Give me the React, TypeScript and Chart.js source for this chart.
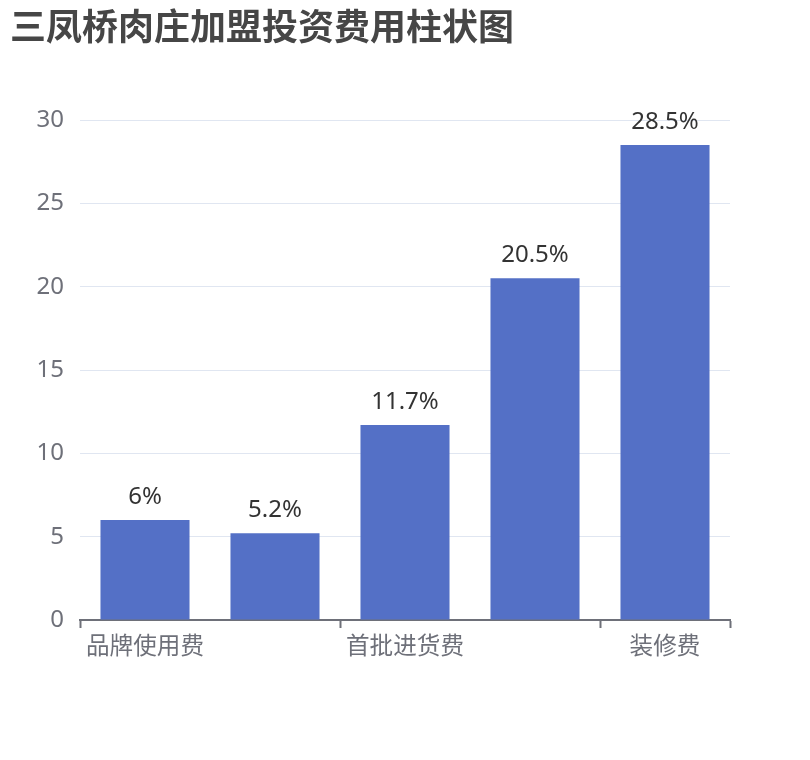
import React, { useEffect, useRef } from "react";
import { Chart, registerables } from "chart.js";

Chart.register(...registerables);

const TITLE = "三凤桥肉庄加盟投资费用柱状图";
const categories = ["品牌使用费", "加盟费", "首批进货费", "设备费", "装修费"];
const values = [6, 5.2, 11.7, 20.5, 28.5];
const valueLabels = ["6%", "5.2%", "11.7%", "20.5%", "28.5%"];
const yTicks = [0, 5, 10, 15, 20, 25, 30];

const NUM_FONT = "'Noto Sans', 'Noto Sans CJK SC', sans-serif";
const CJK_FONT = "'Noto Sans CJK SC', 'Noto Sans', sans-serif";

const overlayPlugin = {
  id: "overlay",
  afterDraw(chart: any) {
    const ctx = chart.ctx;
    ctx.save();
    ctx.fillStyle = "#464646";
    ctx.font = `bold 36px ${CJK_FONT}`;
    ctx.textAlign = "left";
    ctx.textBaseline = "middle";
    ctx.fillText(TITLE, 10, 26);

    const meta = chart.getDatasetMeta(0);
    ctx.fillStyle = "#333333";
    ctx.font = `24px ${NUM_FONT}`;
    ctx.textAlign = "center";
    ctx.textBaseline = "alphabetic";
    meta.data.forEach((bar: any, i: number) => {
      ctx.fillText(valueLabels[i], bar.x, bar.y - 16);
    });
    ctx.restore();
  },
};

export default function App() {
  const ref = useRef<HTMLCanvasElement | null>(null);
  useEffect(() => {
    if (!ref.current) return;
    const tickVisible = (c: any) =>
      c.index === undefined || c.index % 2 === 0 ? "#6E7079" : "rgba(0,0,0,0)";
    const chart = new Chart(ref.current, {
      type: "bar",
      data: {
        labels: categories,
        datasets: [
          {
            data: values,
            backgroundColor: "#5470C6",
            categoryPercentage: 1,
            barPercentage: 0.685,
          },
        ],
      },
      options: {
        responsive: false,
        animation: false,
        layout: { padding: { top: 120, left: 0, right: 80, bottom: 80 } },
        plugins: {
          legend: { display: false },
          title: { display: false },
          tooltip: { enabled: false },
        },
        scales: {
          x: {
            grid: {
              offset: true,
              drawOnChartArea: false,
              drawTicks: true,
              tickLength: 8,
              tickWidth: 2,
              tickColor: tickVisible,
            },
            border: { display: true, color: "#6E7079", width: 2 },
            ticks: {
              autoSkip: false,
              maxRotation: 0,
              minRotation: 0,
              padding: 3,
              color: "#6E7079",
              font: { size: 23.6, family: CJK_FONT },
              callback: (_v: any, i: number) => (i % 2 === 0 ? categories[i] : ""),
            },
            afterFit: (s: any) => {
              s.height = 60;
            },
          },
          y: {
            min: 0,
            max: 30,
            afterBuildTicks: (s: any) => {
              s.ticks = yTicks.map((v) => ({ value: v }));
            },
            grid: { color: "#E0E6F1", lineWidth: 1, drawTicks: false },
            border: { display: false },
            ticks: {
              padding: 16,
              color: "#6E7079",
              font: { size: 24, family: NUM_FONT },
            },
            afterFit: (s: any) => {
              s.width = 80;
            },
          },
        },
      },
      plugins: [overlayPlugin],
    });
    return () => chart.destroy();
  }, []);
  return (
    <canvas
      ref={ref}
      width={810}
      height={760}
      style={{ position: "fixed", left: 0, top: 0, width: 810, height: 760 }}
    />
  );
}
